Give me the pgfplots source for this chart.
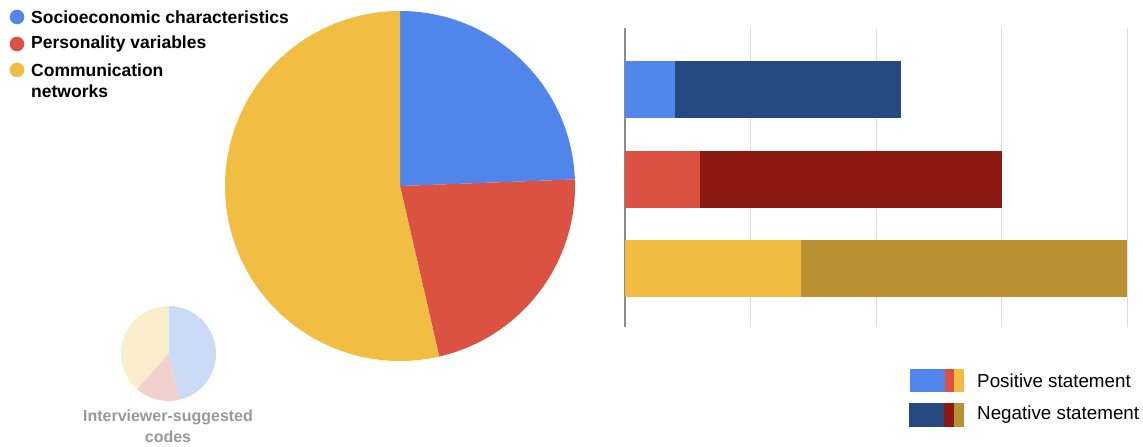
\documentclass[border=0pt]{standalone}
\usepackage{fontspec}
\setmainfont{Liberation Sans}
\usepackage{pgfplots}
\pgfplotsset{compat=1.18}
\definecolor{pieblue}{HTML}{5086EC}
\definecolor{piered}{HTML}{DB5142}
\definecolor{pieyellow}{HTML}{F1BD42}
\definecolor{fadeblue}{HTML}{CADAF7}
\definecolor{fadered}{HTML}{F2D0CE}
\definecolor{fadeyellow}{HTML}{FBEECD}
\definecolor{posblue}{HTML}{5187EC}
\definecolor{negblue}{HTML}{264982}
\definecolor{posred}{HTML}{DB5243}
\definecolor{negred}{HTML}{8D1A12}
\definecolor{posyellow}{HTML}{F2BC42}
\definecolor{negyellow}{HTML}{B99132}
\definecolor{gridgray}{HTML}{DDDDDD}
\definecolor{axisgray}{HTML}{8C8C8C}
\definecolor{labelgray}{HTML}{999999}

% pie slice: cx, cy, r, from(%), to(%), color
\newcommand\slice[6]{%
  \pgfmathsetmacro\sa{90-3.6*#4}%
  \pgfmathsetmacro\ea{90-3.6*#5}%
  \edef\tmp{\noexpand\fill[#6] (axis cs:#1,#2) -- ++(\sa:#3pt) arc[start angle=\sa, end angle=\ea, radius=#3pt] -- cycle;}%
  \tmp}

\begin{document}
\begin{tikzpicture}
\path[use as bounding box] (0,0) rectangle (1143pt,447pt);
% canvas axis for the pies, legends and labels (1 unit = 1pt = 1px)
\begin{axis}[at={(0,0)}, anchor=south west, scale only axis,
  width=1143pt, height=447pt, xmin=0, xmax=1143, ymin=0, ymax=447,
  hide axis, clip=false]
  % big pie: shares (percent) 24.4 / 22.0 / 53.6
  \slice{400}{261}{175}{0}{24.4}{pieblue}
  \slice{400}{261}{175}{24.4}{46.4}{piered}
  \slice{400}{261}{175}{46.4}{100}{pieyellow}
  % small pie: 6 / 2 / 5 of 13
  \slice{168.5}{93.5}{47.5}{0}{46.15}{fadeblue}
  \slice{168.5}{93.5}{47.5}{46.15}{61.54}{fadered}
  \slice{168.5}{93.5}{47.5}{61.54}{100}{fadeyellow}
  % pie legend
  \fill[pieblue] (axis cs:17,430) circle[radius=7.3pt];
  \fill[piered] (axis cs:17,403) circle[radius=7.3pt];
  \fill[pieyellow] (axis cs:17,377) circle[radius=7.3pt];
  \node[anchor=west, inner sep=0pt, font=\fontsize{17.5}{20}\selectfont\bfseries] at (axis cs:31,430) {Socioeconomic characteristics};
  \node[anchor=west, inner sep=0pt, font=\fontsize{17.5}{20}\selectfont\bfseries] at (axis cs:31,403) {Personality variables};
  \node[anchor=west, inner sep=0pt, font=\fontsize{17.5}{20}\selectfont\bfseries] at (axis cs:31,377) {Communication};
  \node[anchor=west, inner sep=0pt, font=\fontsize{17.5}{20}\selectfont\bfseries] at (axis cs:31,356) {networks};
  % small pie label
  \node[inner sep=0pt, text=labelgray, font=\fontsize{16}{19}\selectfont\bfseries] at (axis cs:168,30) {Interviewer-suggested};
  \node[inner sep=0pt, text=labelgray, font=\fontsize{16}{19}\selectfont\bfseries] at (axis cs:168,10) {codes};
  % bar legend
  \fill[posblue] (axis cs:910,55) rectangle (axis cs:945,78);
  \fill[posred] (axis cs:945,55) rectangle (axis cs:954,78);
  \fill[posyellow] (axis cs:954,55) rectangle (axis cs:964,78);
  \fill[negblue] (axis cs:909,20) rectangle (axis cs:944,44);
  \fill[negred] (axis cs:944,20) rectangle (axis cs:954,44);
  \fill[negyellow] (axis cs:954,20) rectangle (axis cs:964,44);
  \node[anchor=west, inner sep=0pt, font=\fontsize{18.8}{22}\selectfont] at (axis cs:977,66) {Positive statement};
  \node[anchor=west, inner sep=0pt, font=\fontsize{18.8}{22}\selectfont] at (axis cs:977,32) {Negative statement};
\end{axis}
% stacked bar chart
\begin{axis}[at={(625pt,120pt)}, anchor=south west, scale only axis,
  width=502pt, height=299pt,
  xbar stacked, bar width=57pt,
  xmin=0, xmax=20, ymin=0.35, ymax=3.69,
  xtick={0,5,10,15,20}, xticklabels={}, ytick=\empty,
  xmajorgrids, grid style={draw=gridgray, line width=1pt},
  axis lines*=left, separate axis lines,
  x axis line style={draw=none},
  y axis line style={draw=axisgray, line width=1.5pt},
  major tick length=0pt, clip=false]
  \addplot[fill=posblue, draw=none] coordinates {(2,3) (0,2) (0,1)};
  \addplot[fill=posred, draw=none] coordinates {(0,3) (3,2) (0,1)};
  \addplot[fill=posyellow, draw=none] coordinates {(0,3) (0,2) (7,1)};
  \addplot[fill=negblue, draw=none] coordinates {(9,3) (0,2) (0,1)};
  \addplot[fill=negred, draw=none] coordinates {(0,3) (12,2) (0,1)};
  \addplot[fill=negyellow, draw=none] coordinates {(0,3) (0,2) (13,1)};
\end{axis}
\end{tikzpicture}
\end{document}
